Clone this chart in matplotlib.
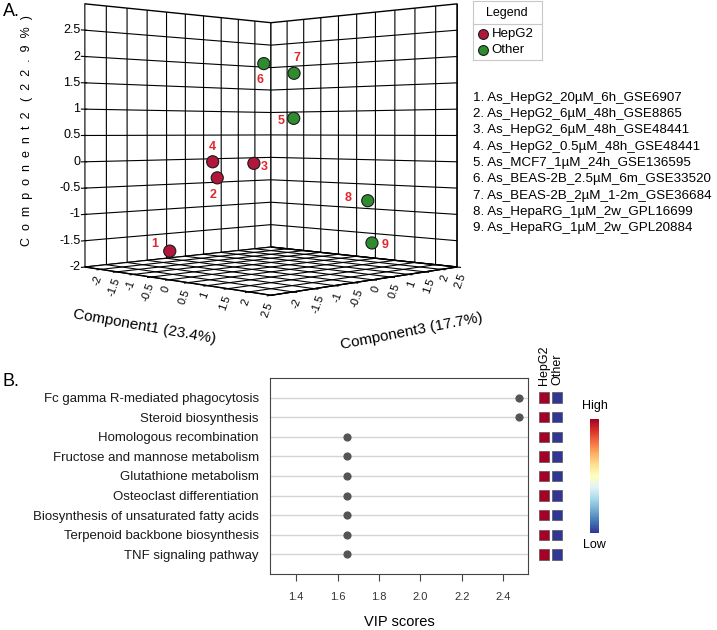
import numpy as np
import matplotlib
matplotlib.use('Agg')
import matplotlib.pyplot as plt
from matplotlib.colors import Normalize
from mpl_toolkits.mplot3d import proj3d

plt.rcParams['font.family'] = ['Liberation Sans', 'DejaVu Sans']
plt.rcParams['grid.color'] = 'black'
plt.rcParams['grid.linewidth'] = 0.8

# ---- panel A: 3D scores (component 1, 2, 3)
sample_ids = ['1', '2', '3', '4', '5', '6', '7', '8', '9']
sample_names = ['As_HepG2_20µM_6h_GSE6907',
                'As_HepG2_6µM_48h_GSE8865',
                'As_HepG2_6µM_48h_GSE48441',
                'As_HepG2_0.5µM_48h_GSE48441',
                'As_MCF7_1µM_24h_GSE136595',
                'As_BEAS-2B_2.5µM_6m_GSE33520',
                'As_BEAS-2B_2µM_1-2m_GSE36684',
                'As_HepaRG_1µM_2w_GPL16699',
                'As_HepaRG_1µM_2w_GPL20884']
sample_group = ['HepG2', 'HepG2', 'HepG2', 'HepG2',
                'Other', 'Other', 'Other', 'Other', 'Other']
comp1 = [-0.54, -0.46, -0.23, -0.52, 0.06, -0.60, -0.18, 1.30, 1.81]
comp2 = [-1.58, -0.29, -0.03, 0.01, 0.83, 1.91, 1.72, -0.74, -1.47]
comp3 = [-2.04, -0.96, -0.23, -1.02, 0.56, 0.40, 0.82, 1.30, 0.81]
axis_ticks = [-2, -1.5, -1, -0.5, 0, 0.5, 1, 1.5, 2, 2.5]

# ---- panel B: VIP scores
pathways = ['Fc gamma R-mediated phagocytosis',
            'Steroid biosynthesis',
            'Homologous recombination',
            'Fructose and mannose metabolism',
            'Glutathione metabolism',
            'Osteoclast differentiation',
            'Biosynthesis of unsaturated fatty acids',
            'Terpenoid backbone biosynthesis',
            'TNF signaling pathway']
vip = [2.477, 2.477, 1.648, 1.648, 1.648, 1.648, 1.648, 1.648, 1.648]
hepg2_level = [1, 1, 1, 1, 1, 1, 1, 1, 1]
other_level = [0, 0, 0, 0, 0, 0, 0, 0, 0]
vip_ticks = [1.4, 1.6, 1.8, 2.0, 2.2, 2.4]

group_colors = {'HepG2': '#B0173B', 'Other': '#2E8B2E'}
# label offsets from each point, in pixels (dx right, dy down)
label_offsets = [(-15, -7), (-4, 17), (10, 4), (0, -15), (-13, 3),
                 (-4, 16), (3, -15), (-20, -3), (13, 2)]

W_PX, H_PX = 717, 630
fig = plt.figure(figsize=(W_PX / 100, H_PX / 100), dpi=100)

# ---------------- 3D plot ----------------
ax = fig.add_axes([0, 0, 1, 1], projection='3d')
ax.set_xlim(-2.5, 2.5)
ax.set_ylim(-2.5, 2.5)
ax.set_zlim(-2, 3)
ax.set_box_aspect((1, 1, 1))
ax.view_init(elev=0.2, azim=-45)
ax.set_proj_type('persp', focal_length=0.45)
ax.set_xticks(axis_ticks)
ax.set_yticks(axis_ticks)
ax.set_zticks(axis_ticks)
ax.set_xticklabels([f'{t:g}' for t in axis_ticks])
ax.set_yticklabels([f'{t:g}' for t in axis_ticks])
ax.set_zticklabels([f'{t:g}' for t in axis_ticks])
ax.tick_params(axis='x', labelsize=8, labelrotation=70, pad=-5.5)
ax.tick_params(axis='y', labelsize=8, labelrotation=70, pad=-5.5)
ax.tick_params(axis='z', labelsize=9, pad=-6)
# 3D ticks are XTicks (top aligned); centre the z labels on their grid lines
for lbl in ax.get_zticklabels():
    lbl.set_ha('right')
    lbl.set_va('center')
for a in (ax.xaxis, ax.yaxis, ax.zaxis):
    a.set_pane_color((1, 1, 1, 1))
    a.pane.set_edgecolor('black')
    a.line.set_color('black')
ax.set_xlabel('')
ax.set_ylabel('')
ax.set_zlabel('')
ax.patch.set_alpha(0)

# place the axes so the box corners land where the reference has them
M = ax.get_proj()
x0, x1 = ax.get_xlim3d()
y0, y1 = ax.get_ylim3d()
z0, z1 = ax.get_zlim3d()
px, py, _ = proj3d.proj_transform(np.array([x0, x1, x0]), np.array([y0, y1, y0]),
                                  np.array([z0, z0, z1]), M)
frac = ax.transLimits.transform(np.column_stack([px, py]))
left_px, right_px, bottom_px = 85, 457, H_PX - 267
side = (right_px - left_px) / (frac[1, 0] - frac[0, 0])
ox = left_px - frac[0, 0] * side
oy = bottom_px - frac[0, 1] * side
ax.set_position([ox / W_PX, oy / H_PX, side / W_PX, side / H_PX])

# z tick labels belong on the left wall edge
ax.zaxis.set_ticks_position('lower')
fig.canvas.draw()
if ax.zaxis.get_ticklabels()[0].get_window_extent().x0 > 271:
    ax.zaxis.set_ticks_position('upper')

colors = [group_colors[g] for g in sample_group]
ax.scatter(comp1, comp3, comp2, c=colors, s=76, edgecolors='#1a1a1a',
           linewidths=0.8, depthshade=False, alpha=1)

sx, sy, _ = proj3d.proj_transform(np.array(comp1), np.array(comp3), np.array(comp2), M)
for lab, xx, yy, (dx, dy) in zip(sample_ids, sx, sy, label_offsets):
    ax.annotate(lab, xy=(xx, yy), xycoords='data', xytext=(dx * 0.72, -dy * 0.72),
                textcoords='offset points', ha='center', va='center',
                color='#E3262B', fontsize=9, fontweight='bold')

fig.text(144 / W_PX, 1 - 327 / H_PX, 'Component1 (23.4%)', rotation=-10,
         ha='center', va='center', fontsize=11)
fig.text(412 / W_PX, 1 - 331 / H_PX, 'Component3 (17.7%)', rotation=11,
         ha='center', va='center', fontsize=11)
fig.text(27 / W_PX, 1 - 131 / H_PX,
         'C  o  m  p  o  n  e  n  t  2   (  2  2  .  9  %  )',
         rotation=90, ha='center', va='center', fontsize=9)

# legend box
lax = fig.add_axes([473 / W_PX, 1 - 60 / H_PX, 69 / W_PX, 59 / H_PX])
lax.set_xlim(0, 1)
lax.set_ylim(0, 1)
lax.set_xticks([])
lax.set_yticks([])
for sp in lax.spines.values():
    sp.set_color('#c8c8c8')
lax.axhline(0.61, color='#c8c8c8', lw=0.8)
lax.text(0.49, 0.8, 'Legend', ha='center', va='center', fontsize=9)
for yy, g in zip([0.44, 0.17], ['HepG2', 'Other']):
    lax.scatter([0.145], [yy], s=50, color=group_colors[g], edgecolors='#1a1a1a',
                linewidths=0.8, clip_on=False)
    lax.text(0.27, yy, g, ha='left', va='center', fontsize=9.5)

for i, name in enumerate(sample_names):
    fig.text(473 / W_PX, 1 - (98 + i * 16.25) / H_PX, f'{i + 1}. {name}',
             ha='left', va='center', fontsize=9.6)

fig.text(3 / W_PX, 1 - 11 / H_PX, 'A.', ha='left', va='center', fontsize=13)
fig.text(3 / W_PX, 1 - 382 / H_PX, 'B.', ha='left', va='center', fontsize=13)

# ---------------- VIP dot plot ----------------
rows = np.arange(len(pathways))
bax = fig.add_axes([270 / W_PX, 1 - 574 / H_PX, 258 / W_PX, 196 / H_PX])
for r in rows:
    bax.axhline(r, color='#d5d5d5', lw=1, zorder=0)
bax.scatter(vip, rows, s=24, color='#555555', zorder=3)
bax.set_xlim(1.274, 2.52)
bax.set_ylim(len(pathways), -1)
bax.set_xticks(vip_ticks)
bax.set_xticklabels([f'{t:.1f}' for t in vip_ticks])
bax.set_yticks(rows)
bax.set_yticklabels(pathways)
bax.tick_params(axis='y', length=0, pad=8, labelsize=9.5, labelcolor='#1a1a1a')
bax.tick_params(axis='x', length=5, width=0.8, color='#444444', pad=8,
                labelsize=8, labelcolor='#333333')
bax.set_xlabel('VIP scores', fontsize=10.5, labelpad=9)
for sp in bax.spines.values():
    sp.set_color('#444444')
    sp.set_linewidth(0.8)

# heat squares for group level
hax = fig.add_axes([537.8 / W_PX, 1 - 574 / H_PX, 26 / W_PX, 196 / H_PX])
for j, level in enumerate([hepg2_level, other_level]):
    hax.scatter([j] * len(rows), rows, c=level, cmap='RdYlBu_r', vmin=0, vmax=1,
                marker='s', s=56, edgecolors='#555555', linewidths=0.5)
hax.set_xlim(-0.5, 1.5)
hax.set_ylim(len(pathways), -1)
hax.axis('off')
for j, g in enumerate(['HepG2', 'Other']):
    hax.text(j, -0.62, g, rotation=90, ha='center', va='bottom', fontsize=9)

cax = fig.add_axes([590 / W_PX, 1 - 533 / H_PX, 9 / W_PX, 114 / H_PX])
sm = matplotlib.cm.ScalarMappable(norm=Normalize(0, 1), cmap='RdYlBu_r')
cb = fig.colorbar(sm, cax=cax)
cb.set_ticks([])
cb.outline.set_visible(False)
fig.text(594.5 / W_PX, 1 - 406 / H_PX, 'High', ha='center', va='center', fontsize=9)
fig.text(594.5 / W_PX, 1 - 545 / H_PX, 'Low', ha='center', va='center', fontsize=9)

fig.savefig('out.png', dpi=100)
